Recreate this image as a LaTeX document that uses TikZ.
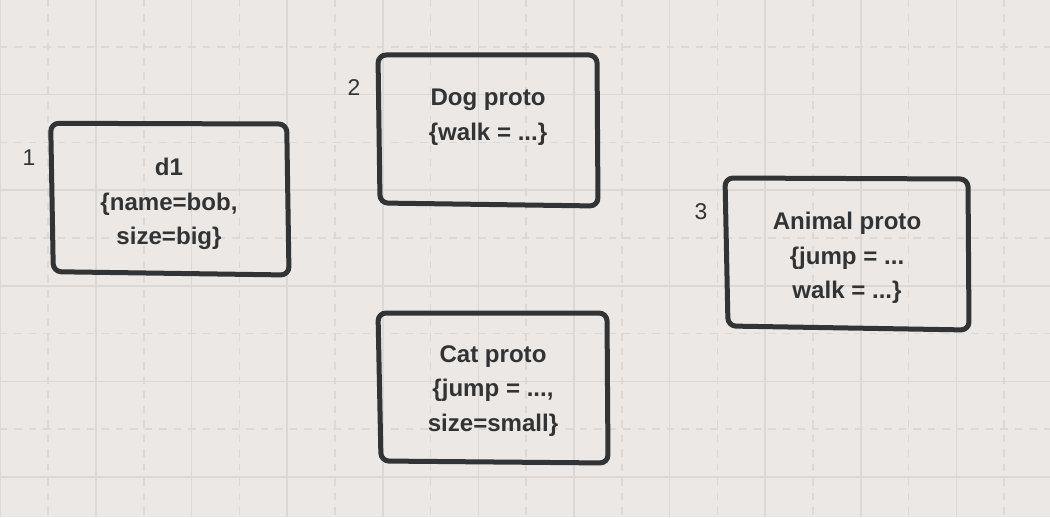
\documentclass[tikz,border=0pt]{standalone}
\usepackage{fontspec}
\setmainfont{Liberation Sans}
\usepackage{xcolor}
\definecolor{ink}{HTML}{333333}
\definecolor{paper}{HTML}{EBE8E5}
\definecolor{gridline}{HTML}{DBD8D5}
\usepackage{tikz}
\tikzset{
    sketch/.style={line width=0.1cm, draw=ink, rounded corners=0.16cm, line join=round},
    boxtext/.style={align=center, text=ink, font=\bfseries\fontsize{13.7}{19.6}\selectfont},
    stepnum/.style={text=ink, font=\fontsize{13}{15}\selectfont},
    gridmajor/.style={draw=gridline, line width=0.032cm},
    gridminor/.style={draw=gridline, line width=0.032cm, dash pattern=on 0.15cm off 0.14cm}
}

\begin{document}
\begin{tikzpicture}[x=0.02cm, y=-0.02cm]
        % Paper with grid
        \useasboundingbox (0,0) rectangle (1050,517);
        \fill[paper] (0,0) rectangle (1050,517);
        \foreach \i in {0,...,10} {
            \draw[gridmajor] (\i*95.6+0.4,0) -- (\i*95.6+0.4,517);
            \draw[gridminor] (\i*95.6+48.2,0) -- (\i*95.6+48.2,517);
        }
        \foreach \i in {1,...,5} {
            \draw[gridmajor] (0,\i*95.6-1) -- (1050,\i*95.6-1);
            \draw[gridminor] (0,\i*95.6-48.8) -- (1050,\i*95.6-48.8);
        }

        % Object and prototype texts
        \node[boxtext] (d1) at (169,204) {d1\\\{name=bob,\\size=big\}};
        \node[boxtext] (dog) at (488,117) {Dog proto\\\{walk = ...\}};
        \node[boxtext] (animal) at (847,258) {Animal proto\\\{jump = ...\\walk = ...\}};
        \node[boxtext] (cat) at (493,391) {Cat proto\\\{jump = ...,\\size=small\}};

        % Chain numbers
        \node[stepnum] (n1) at (29,158) {1};
        \node[stepnum] (n2) at (354,88) {2};
        \node[stepnum] (n3) at (701,212) {3};

        % Hand-drawn boxes
        \draw[sketch] (50.7,123.3) -- (286.7,124) -- (289,275) -- (53.3,271.7) -- cycle;
        \draw[sketch] (378,55) -- (597,55) -- (598,206) -- (380,203) -- cycle;
        \draw[sketch] (725,178) -- (968,179) -- (969,330) -- (728,326) -- cycle;
        \draw[sketch] (378,313) -- (607,313) -- (608,463) -- (381,461) -- cycle;
    \end{tikzpicture}
\end{document}
